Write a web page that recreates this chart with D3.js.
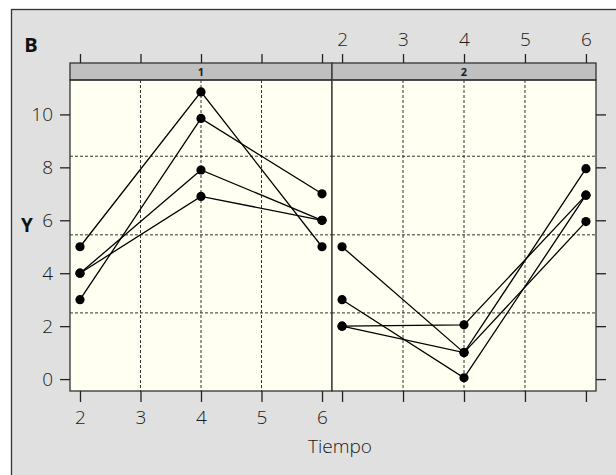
<!DOCTYPE html>
<html>
<head>
<meta charset="utf-8">
<script src="https://cdn.jsdelivr.net/npm/d3@7"></script>
<style>
  html, body { margin: 0; padding: 0; background: #ffffff; }
  svg { display: block; }
</style>
</head>
<body>
<svg id="chart" width="616" height="475"></svg>
<script>
// ---- data ----
const panels = ["1", "2"];
const tiempo = [2, 4, 6];
// panel 1 subjects
const p1s1 = [5, 10.85, 5];
const p1s2 = [3, 9.85, 7];
const p1s3 = [4, 7.9, 6];
const p1s4 = [4, 6.9, 6];
// panel 2 subjects
const p2s1 = [5, 1.0, 7.95];
const p2s2 = [3, 0.05, 6.95];
const p2s3 = [2, 2.05, 6.95];
const p2s4 = [2, 1.0, 5.95];
const seriesByPanel = [[p1s1, p1s2, p1s3, p1s4], [p2s1, p2s2, p2s3, p2s4]];
const xTicks = [2, 3, 4, 5, 6];
const yTicks = [0, 2, 4, 6, 8, 10];
const gridX = [3, 4, 5];
const gridY = [8.42, 5.45, 2.5];
const xLabel = "Tiempo";
const yLabel = "Y";
const tag = "B";

// ---- layout ----
const svg = d3.select("#chart");
const font = "'Open Sans', 'DejaVu Sans', sans-serif";
const textCol = "#1a1a1a";
const panelX = [[70, 332], [332, 596]];
const plotTop = 80, plotBottom = 391, stripTop = 63;

svg.append("rect").attr("x", 11.5).attr("y", 9.5).attr("width", 620).attr("height", 480)
  .attr("fill", "#e0e0e0").attr("stroke", "#333").attr("stroke-width", 1.3);

const y = d3.scaleLinear().domain([-0.45, 11.3]).range([plotBottom, plotTop]);

panels.forEach((p, i) => {
  const x = d3.scaleLinear().domain([1.835, 6.165]).range(panelX[i]);
  const g = svg.append("g");
  const [x0, x1] = panelX[i];
  g.append("rect").attr("x", x0).attr("y", plotTop).attr("width", x1 - x0).attr("height", plotBottom - plotTop)
    .attr("fill", "#fffff2");
  g.selectAll(".gx").data(gridX).join("line")
    .attr("x1", d => x(d)).attr("x2", d => x(d)).attr("y1", plotTop).attr("y2", plotBottom)
    .attr("stroke", "#333").attr("stroke-width", 1).attr("stroke-dasharray", "3,2");
  g.selectAll(".gy").data(gridY).join("line")
    .attr("x1", x0).attr("x2", x1).attr("y1", d => y(d)).attr("y2", d => y(d))
    .attr("stroke", "#333").attr("stroke-width", 1).attr("stroke-dasharray", "3,2");
  const line = d3.line().x((d, j) => x(tiempo[j])).y(d => y(d));
  g.selectAll(".ln").data(seriesByPanel[i]).join("path")
    .attr("d", line).attr("fill", "none").attr("stroke", "#000").attr("stroke-width", 1.3);
  seriesByPanel[i].forEach(s => {
    g.selectAll(null).data(s).join("circle")
      .attr("cx", (d, j) => x(tiempo[j])).attr("cy", d => y(d)).attr("r", 4.6).attr("fill", "#000");
  });
  g.append("rect").attr("x", x0).attr("y", stripTop).attr("width", x1 - x0).attr("height", plotTop - stripTop)
    .attr("fill", "#c0c0c0").attr("stroke", "#333").attr("stroke-width", 1.3);
  g.append("text").attr("x", (x0 + x1) / 2).attr("y", plotTop - 4).attr("text-anchor", "middle")
    .attr("font-family", font).attr("font-weight", "bold").attr("font-size", 11).attr("fill", "#222").text(p);
  g.append("rect").attr("x", x0).attr("y", plotTop).attr("width", x1 - x0).attr("height", plotBottom - plotTop)
    .attr("fill", "none").attr("stroke", "#333").attr("stroke-width", 1.3);

  const styleAxis = (ax, showLabels) => {
    ax.select(".domain").remove();
    ax.selectAll(".tick line").attr("stroke", "#222").attr("stroke-width", 1.3);
    ax.selectAll(".tick text").attr("font-family", font).attr("font-size", 19).attr("font-weight", 300)
      .attr("fill", textCol).style("display", showLabels ? null : "none");
  };
  const top = svg.append("g").attr("transform", `translate(0,${stripTop})`)
    .call(d3.axisTop(x).tickValues(xTicks).tickSize(9).tickPadding(8).tickFormat(d3.format("d")));
  styleAxis(top, i === 1);
  const bot = svg.append("g").attr("transform", `translate(0,${plotBottom})`)
    .call(d3.axisBottom(x).tickValues(xTicks).tickSize(11).tickPadding(9).tickFormat(d3.format("d")));
  styleAxis(bot, i === 0);
  if (i === 0) {
    const left = svg.append("g").attr("transform", `translate(${x0},0)`)
      .call(d3.axisLeft(y).tickValues(yTicks).tickSize(10).tickPadding(7).tickFormat(d3.format("d")));
    styleAxis(left, true);
  } else {
    const right = svg.append("g").attr("transform", `translate(${x1},0)`)
      .call(d3.axisRight(y).tickValues(yTicks).tickSize(10).tickFormat(d3.format("d")));
    styleAxis(right, false);
  }
});

svg.append("text").attr("x", 340).attr("y", 453).attr("text-anchor", "middle")
  .attr("font-family", font).attr("font-size", 19).attr("font-weight", 300).attr("fill", textCol).text(xLabel);
svg.append("text").attr("x", 27).attr("y", 232).attr("text-anchor", "middle")
  .attr("font-family", font).attr("font-weight", "bold").attr("font-size", 19).attr("fill", "#111").text(yLabel);
svg.append("text").attr("x", 31).attr("y", 52).attr("text-anchor", "middle")
  .attr("font-family", font).attr("font-weight", "bold").attr("font-size", 20).attr("fill", "#111").text(tag);
</script>
</body>
</html>
